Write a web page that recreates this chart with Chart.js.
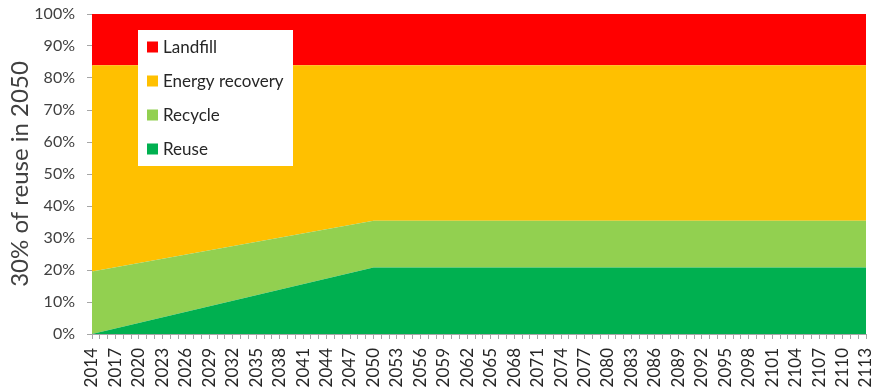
<!DOCTYPE html>
<html>
<head>
<meta charset="utf-8">
<script src="https://cdn.jsdelivr.net/npm/chart.js@4/dist/chart.umd.min.js"></script>
<style>
  body { margin: 0; background: #fff; }
</style>
</head>
<body>
<canvas id="grafica" width="877" height="392"></canvas>
<script>
// key years where the shares change
var keyYears = [2014, 2050, 2113];
var reuse = [0, 20.8, 20.8];
var recycle = [19.5, 14.6, 14.6];
var energyRecovery = [64.5, 48.6, 48.6];
var landfill = [16, 16, 16];

var tickYears = [2014, 2017, 2020, 2023, 2026, 2029, 2032, 2035, 2038, 2041, 2044, 2047,
    2050, 2053, 2056, 2059, 2062, 2065, 2068, 2071, 2074, 2077, 2080, 2083, 2086, 2089,
    2092, 2095, 2098, 2101, 2104, 2107, 2110, 2113];

function puntos(valores) {
    return keyYears.map(function (y, i) { return { x: y, y: valores[i] }; });
}

function serie(nombre, valores, color, fill) {
    return {
        label: nombre,
        data: puntos(valores),
        backgroundColor: color,
        borderColor: color,
        borderWidth: 0,
        pointRadius: 0,
        tension: 0,
        fill: fill
    };
}

// legend drawn inside the plot, top-left
var leyenda = {
    id: 'leyenda',
    afterDraw: function (chart) {
        var ctx = chart.ctx;
        var area = chart.chartArea;
        var x = area.left + 46, y = area.top + 16;
        ctx.save();
        ctx.fillStyle = '#ffffff';
        ctx.fillRect(x, y, 155, 136);
        var ds = chart.data.datasets.slice().reverse();
        ctx.font = '17px Lato';
        ctx.textBaseline = 'middle';
        for (var i = 0; i < ds.length; i++) {
            var cy = y + 17 + i * 34;
            ctx.fillStyle = ds[i].backgroundColor;
            ctx.fillRect(x + 9, cy - 5.5, 11, 11);
            ctx.fillStyle = '#262626';
            ctx.fillText(ds[i].label, x + 25, cy + 1);
        }
        ctx.restore();
    }
};

var miCanvas = document.getElementById('grafica').getContext('2d');

var chart = new Chart(miCanvas, {
    type: 'line',
    data: {
        datasets: [
            serie('Reuse', reuse, '#00B050', 'origin'),
            serie('Recycle', recycle, '#92D050', '-1'),
            serie('Energy recovery', energyRecovery, '#FFC000', '-1'),
            serie('Landfill', landfill, '#FF0000', '-1')
        ]
    },
    options: {
        responsive: false,
        animation: false,
        layout: { padding: { left: 0, right: 11, top: 14, bottom: 0 } },
        plugins: {
            legend: { display: false },
            tooltip: { enabled: false }
        },
        scales: {
            x: {
                type: 'linear',
                min: 2014,
                max: 2113,
                afterBuildTicks: function (scale) {
                    var t = [];
                    for (var a = 2014; a <= 2113; a++) t.push({ value: a });
                    scale.ticks = t;
                },
                afterFit: function (scale) {
                    scale.height = 58;
                    scale.paddingLeft = 0;
                    scale.paddingRight = 0;
                },
                ticks: {
                    autoSkip: false,
                    minRotation: 90,
                    maxRotation: 90,
                    padding: 9,
                    color: '#262626',
                    font: { family: 'Lato', size: 17 },
                    callback: function (v) {
                        return tickYears.indexOf(v) >= 0 ? String(v) : '';
                    }
                },
                grid: { drawOnChartArea: false, tickLength: 5, color: '#a6a6a6' },
                border: { color: '#a6a6a6' }
            },
            y: {
                stacked: true,
                min: 0,
                max: 100,
                afterFit: function (scale) {
                    scale.width = 92;
                    scale.paddingTop = 0;
                    scale.paddingBottom = 0;
                },
                ticks: {
                    stepSize: 10,
                    padding: 12,
                    color: '#404040',
                    font: { family: 'Lato', size: 16 },
                    callback: function (v) { return v + '%'; }
                },
                grid: { drawOnChartArea: false, tickLength: 5, color: '#a6a6a6' },
                border: { color: '#a6a6a6' },
                title: {
                    display: true,
                    text: '30% of reuse in 2050',
                    color: '#404040',
                    font: { family: 'Lato', size: 24 },
                    padding: { top: 6, bottom: 0 }
                }
            }
        }
    },
    plugins: [leyenda]
});
</script>
</body>
</html>
